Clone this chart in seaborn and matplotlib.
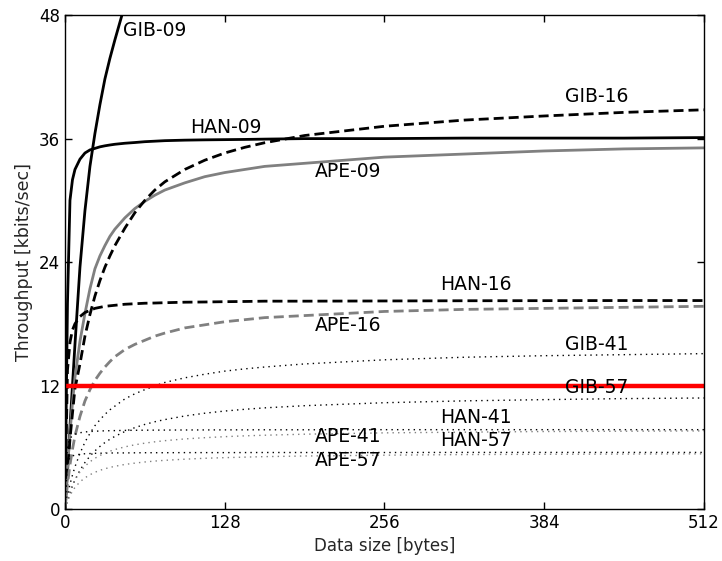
import matplotlib
matplotlib.use("Agg")
import matplotlib.pyplot as plt
import seaborn as sns
import pandas as pd

# Data size [bytes]
data_size = [0, 2, 4, 6, 8, 12, 16, 20, 24, 28, 32, 36, 40, 48, 56, 64, 72, 80, 96, 112, 128, 144, 160, 192, 256, 320, 384, 448, 512]

# Throughput [kbits/sec]
gib_09 = [0, 3.5, 8.0, 12.0, 16.0, 23.5, 29.0, 33.3, 36.5, 39.3, 41.8, 43.8, 45.6, 49.0, 51.3, 53.4, 55.3, 56.8, 59.3, 61.2, 62.8, 64.0, 65.0, 66.6, 68.7, 70.1, 71.0, 71.7, 72.2]
han_09 = [0, 20.0, 30.0, 32.0, 33.0, 34.0, 34.6, 34.9, 35.05, 35.2, 35.3, 35.38, 35.45, 35.55, 35.62, 35.7, 35.75, 35.8, 35.85, 35.88, 35.9, 35.92, 35.95, 36.0, 36.0, 36.05, 36.05, 36.05, 36.1]
ape_09 = [0, 4.0, 7.4, 10.3, 12.8, 16.3, 19.0, 21.4, 23.35, 24.6, 25.6, 26.5, 27.2, 28.3, 29.2, 29.9, 30.5, 31.0, 31.7, 32.3, 32.7, 33.0, 33.3, 33.6, 34.2, 34.5, 34.8, 35.0, 35.1]
gib_16 = [0, 3.5, 6.8, 9.3, 11.7, 14.1, 16.8, 18.9, 20.7, 22.2, 23.5, 24.6, 25.6, 27.3, 28.8, 30.0, 31.0, 31.8, 33.0, 33.9, 34.6, 35.15, 35.6, 36.3, 37.2, 37.8, 38.2, 38.55, 38.8]
han_16 = [0, 13.5, 16.2, 17.4, 18.0, 18.7, 19.1, 19.3, 19.5, 19.6, 19.7, 19.75, 19.8, 19.9, 19.95, 20.0, 20.02, 20.05, 20.1, 20.12, 20.15, 20.17, 20.2, 20.2, 20.22, 20.24, 20.25, 20.26, 20.26]
ape_16 = [0, 2.4, 4.3, 5.8, 7.1, 9.0, 10.5, 11.6, 12.5, 13.2, 13.8, 14.33, 14.8, 15.5, 16.0, 16.4, 16.8, 17.1, 17.6, 17.9, 18.2, 18.4, 18.6, 18.8, 19.2, 19.4, 19.5, 19.6, 19.7]
gib_41 = [0, 1.3, 2.4, 3.3, 4.1, 5.4, 6.5, 7.35, 8.1, 8.67, 9.2, 9.64, 10.0, 10.7, 11.2, 11.6, 11.97, 12.3, 12.75, 13.1, 13.4, 13.62, 13.8, 14.1, 14.5, 14.75, 14.9, 15.0, 15.1]
gib_57 = [0, 0.87, 1.6, 2.26, 2.83, 3.77, 4.52, 5.14, 5.65, 6.08, 6.46, 6.78, 7.06, 7.53, 7.91, 8.22, 8.48, 8.69, 9.04, 9.31, 9.52, 9.69, 9.83, 10.04, 10.33, 10.51, 10.63, 10.73, 10.79]
han_41 = [0, 6.18, 6.86, 7.13, 7.27, 7.41, 7.49, 7.53, 7.56, 7.58, 7.6, 7.61, 7.62, 7.64, 7.65, 7.66, 7.665, 7.67, 7.68, 7.685, 7.69, 7.695, 7.7, 7.7, 7.71, 7.71, 7.71, 7.71, 7.71]
han_57 = [0, 4.58, 5.0, 5.16, 5.24, 5.32, 5.37, 5.39, 5.41, 5.42, 5.43, 5.44, 5.45, 5.45, 5.46, 5.47, 5.47, 5.47, 5.48, 5.48, 5.48, 5.485, 5.49, 5.49, 5.49, 5.5, 5.5, 5.5, 5.5]
ape_41 = [0, 0.98, 1.73, 2.34, 2.84, 3.6, 4.16, 4.59, 4.93, 5.2, 5.43, 5.62, 5.78, 6.04, 6.24, 6.4, 6.53, 6.64, 6.81, 6.93, 7.03, 7.11, 7.17, 7.27, 7.4, 7.47, 7.53, 7.56, 7.59]
ape_57 = [0, 0.73, 1.29, 1.74, 2.1, 2.64, 3.03, 3.33, 3.57, 3.76, 3.91, 4.04, 4.15, 4.33, 4.46, 4.57, 4.66, 4.73, 4.84, 4.93, 4.99, 5.04, 5.09, 5.15, 5.23, 5.29, 5.32, 5.34, 5.36]
limit_value = 12

series_names = ["GIB-09", "HAN-09", "APE-09", "GIB-16", "HAN-16", "APE-16",
                "GIB-41", "GIB-57", "HAN-41", "HAN-57", "APE-41", "APE-57"]
series_values = [gib_09, han_09, ape_09, gib_16, han_16, ape_16,
                 gib_41, gib_57, han_41, han_57, ape_41, ape_57]

DASH = (0, (3.6, 1.8))
DOT = (0, (1, 3))
styles = {
    "GIB-09": ("black", "-", 2.0), "HAN-09": ("black", "-", 2.0), "APE-09": ("0.5", "-", 2.0),
    "GIB-16": ("black", DASH, 2.0), "HAN-16": ("black", DASH, 2.0),
    "APE-16": ("0.5", DASH, 2.0),
    "GIB-41": ("black", DOT, 1.0), "GIB-57": ("black", DOT, 1.0),
    "HAN-41": ("black", DOT, 1.0), "HAN-57": ("black", DOT, 1.0),
    "APE-41": ("0.5", DOT, 1.0), "APE-57": ("0.5", DOT, 1.0),
}

# label positions (data coords)
label_pos = {
    "GIB-09": (46.5, 46.5), "HAN-09": (100, 37.1), "GIB-16": (400.6, 40.1),
    "APE-09": (200.3, 32.8), "HAN-16": (300.5, 21.8), "APE-16": (200.3, 17.8),
    "GIB-41": (400.6, 16.0), "GIB-57": (400.6, 11.85), "HAN-41": (300.5, 8.94),
    "HAN-57": (300.5, 6.7), "APE-41": (200.3, 7.0), "APE-57": (200.3, 4.76),
}

sns.set_theme(style="ticks", rc={
    "xtick.direction": "in", "ytick.direction": "in",
    "xtick.top": True, "ytick.right": True,
    "xtick.major.size": 5, "ytick.major.size": 5,
    "axes.edgecolor": "black", "axes.linewidth": 1.0,
    "xtick.color": "black", "ytick.color": "black",
})
plt.rcParams["font.family"] = ["DejaVu Sans"]

fig = plt.figure(figsize=(7.22, 5.61), dpi=100)
ax = fig.add_axes([0.09, 0.0927, 0.885, 0.8803])

for name, vals in zip(series_names, series_values):
    color, ls, lw = styles[name]
    df = pd.DataFrame({"x": data_size, "y": vals})
    sns.lineplot(data=df, x="x", y="y", ax=ax, color=color, linestyle=ls, linewidth=lw)

ref = pd.DataFrame({"x": [data_size[0], data_size[-1]], "y": [limit_value, limit_value]})
sns.lineplot(data=ref, x="x", y="y", ax=ax, color="red", linewidth=3.2)

for name in series_names:
    x, y = label_pos[name]
    ax.text(x, y, name, fontsize=13.5, ha="left", va="center", color="black")

ax.set_xlim(0, 512)
ax.set_ylim(0, 48)
ax.set_xticks([0, 128, 256, 384, 512])
ax.set_yticks([0, 12, 24, 36, 48])
ax.tick_params(labelsize=12, width=1)
ax.set_xlabel("Data size [bytes]", fontsize=12)
ax.set_ylabel("Throughput [kbits/sec]", fontsize=12.5)

fig.savefig("out.png", dpi=100)
